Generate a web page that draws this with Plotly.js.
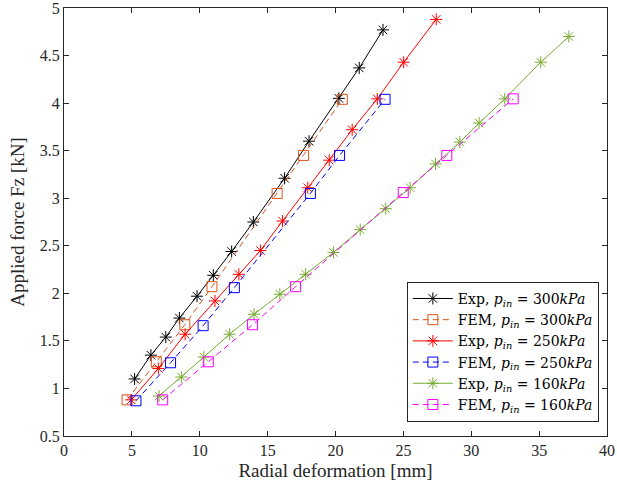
<!DOCTYPE html>
<html>
<head>
<meta charset="utf-8">
<script src="https://cdn.plot.ly/plotly-3.0.1.min.js"></script>
<style>html,body{margin:0;padding:0;background:#fff;}#chart{width:617px;height:490px;}</style>
</head>
<body>
<div id="chart"></div>
<script>
// Exp, p_in = 300 kPa
var exp300X = [5.2, 6.4, 7.5, 8.5, 9.8, 11.0, 12.35, 13.95, 16.25, 18.05, 20.25, 21.75, 23.5];
var exp300Y = [1.10, 1.35, 1.54, 1.74, 1.97, 2.19, 2.44, 2.75, 3.21, 3.60, 4.05, 4.37, 4.77];
// FEM, p_in = 300 kPa
var fem300X = [4.65, 6.8, 8.9, 10.9, 15.7, 17.65, 20.5];
var fem300Y = [0.88, 1.28, 1.67, 2.07, 3.05, 3.45, 4.04];
// Exp, p_in = 250 kPa
var exp250X = [4.95, 6.95, 8.92, 11.12, 12.88, 14.47, 16.1, 17.96, 19.54, 21.23, 23.08, 25.02, 27.42];
var exp250Y = [0.88, 1.21, 1.57, 1.92, 2.20, 2.45, 2.76, 3.11, 3.40, 3.72, 4.045, 4.43, 4.88];
// FEM, p_in = 250 kPa
var fem250X = [5.3, 7.85, 10.25, 12.55, 18.15, 20.3, 23.65];
var fem250Y = [0.87, 1.27, 1.66, 2.06, 3.05, 3.45, 4.04];
// Exp, p_in = 160 kPa
var exp160X = [7.0, 8.65, 10.3, 12.2, 14.0, 15.9, 17.8, 19.85, 21.82, 23.7, 25.5, 27.37, 29.16, 30.58, 32.47, 35.12, 37.19];
var exp160Y = [0.92, 1.12, 1.33, 1.57, 1.78, 1.99, 2.20, 2.43, 2.67, 2.89, 3.11, 3.36, 3.59, 3.79, 4.045, 4.43, 4.70];
// FEM, p_in = 160 kPa
var fem160X = [7.27, 10.63, 13.89, 17.06, 24.99, 28.2, 33.09];
var fem160Y = [0.88, 1.28, 1.67, 2.07, 3.06, 3.45, 4.045];

// tick labels
var xTicks = [0, 5, 10, 15, 20, 25, 30, 35, 40];
var yTicks = [0.5, 1, 1.5, 2, 2.5, 3, 3.5, 4, 4.5, 5];
var yTickText = ['0.5', '1', '1.5', '2', '2.5', '3', '3.5', '4', '4.5', '5'];

var names = [
  'Exp, <i>p</i><sub><i>in</i></sub> = 300<i>kPa</i>',
  'FEM, <i>p</i><sub><i>in</i></sub> = 300<i>kPa</i>',
  'Exp, <i>p</i><sub><i>in</i></sub> = 250<i>kPa</i>',
  'FEM, <i>p</i><sub><i>in</i></sub> = 250<i>kPa</i>',
  'Exp, <i>p</i><sub><i>in</i></sub> = 160<i>kPa</i>',
  'FEM, <i>p</i><sub><i>in</i></sub> = 160<i>kPa</i>'
];

var FONT = 'Liberation Serif, DejaVu Serif, serif';

function expTrace(x, y, color, name) {
  return {x: x, y: y, name: name, type: 'scatter', mode: 'lines+markers',
    line: {color: color, width: 1},
    marker: {symbol: 'asterisk-open', size: 10, color: color, line: {color: color, width: 1}}};
}
function femTrace(x, y, color, name) {
  return {x: x, y: y, name: name, type: 'scatter', mode: 'lines+markers',
    line: {color: color, width: 1, dash: '6px,4px'},
    marker: {symbol: 'square-open', size: 10, color: color, line: {color: color, width: 1}}};
}

var data = [
  expTrace(exp300X, exp300Y, '#000000', names[0]),
  femTrace(fem300X, fem300Y, '#D95319', names[1]),
  expTrace(exp250X, exp250Y, '#FF0000', names[2]),
  femTrace(fem250X, fem250Y, '#0000FF', names[3]),
  expTrace(exp160X, exp160Y, '#77AC30', names[4]),
  femTrace(fem160X, fem160Y, '#FF00FF', names[5])
];

var axisCommon = {
  showgrid: false, zeroline: false, showline: true, linecolor: '#262626', linewidth: 1,
  mirror: 'ticks', ticks: 'inside', ticklen: 5, tickcolor: '#262626', tickwidth: 1,
  ticklabeloverflow: 'allow',
  tickfont: {family: FONT, size: 16, color: '#262626'}
};

var layout = {
  width: 617, height: 490,
  margin: {l: 64, r: 10, t: 8, b: 54},
  paper_bgcolor: '#ffffff', plot_bgcolor: '#ffffff',
  showlegend: true,
  font: {family: FONT, color: '#262626'},
  xaxis: Object.assign({}, axisCommon, {
    range: [0, 40], tickvals: xTicks,
    title: {text: 'Radial deformation [mm]', font: {family: FONT, size: 19, color: '#262626'}, standoff: 5}
  }),
  yaxis: Object.assign({}, axisCommon, {
    range: [0.5, 5], tickvals: yTicks, ticktext: yTickText,
    title: {text: 'Applied force Fz [kN]', font: {family: FONT, size: 19, color: '#262626'}, standoff: 10}
  }),
  legend: {
    x: 0.985, xanchor: 'right', y: 0.033, yanchor: 'bottom',
    bgcolor: '#ffffff', bordercolor: '#262626', borderwidth: 1,
    font: {family: 'DejaVu Serif, Liberation Serif, serif', size: 14, color: '#000000'},
    tracegroupgap: 0, itemwidth: 40
  }
};

Plotly.newPlot('chart', data, layout, {displayModeBar: false, staticPlot: true});
</script>
</body>
</html>
